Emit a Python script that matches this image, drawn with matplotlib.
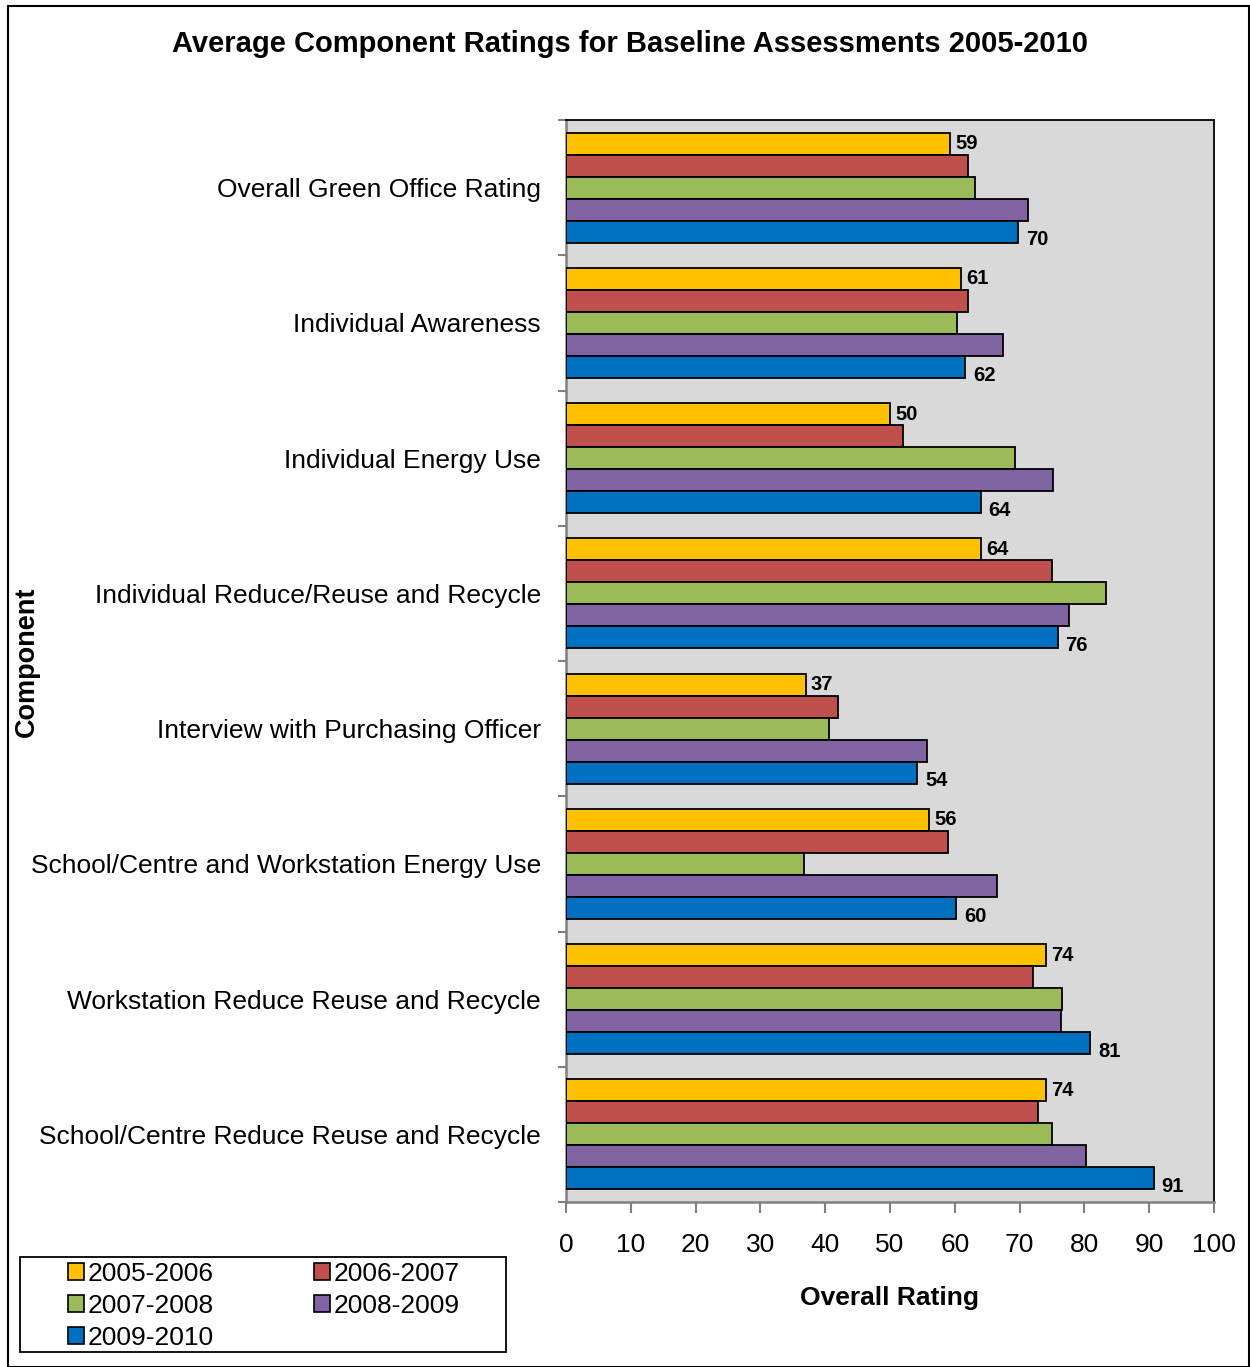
import matplotlib
matplotlib.use("Agg")
import matplotlib.pyplot as plt
import numpy as np
from matplotlib.patches import Rectangle, Patch

plt.rcParams['font.family'] = ['Liberation Sans', 'DejaVu Sans']

categories = [
    "Overall Green Office Rating",
    "Individual Awareness",
    "Individual Energy Use",
    "Individual Reduce/Reuse and Recycle",
    "Interview with Purchasing Officer",
    "School/Centre and Workstation Energy Use",
    "Workstation Reduce Reuse and Recycle",
    "School/Centre Reduce Reuse and Recycle",
]
series_names = ["2005-2006", "2006-2007", "2007-2008", "2008-2009", "2009-2010"]
v2005 = [59.3, 61.0, 50.0, 64.0, 37.0, 56.0, 74.0, 74.0]
v2006 = [62.0, 62.0, 52.0, 75.0, 42.0, 59.0, 72.0, 72.8]
v2007 = [63.1, 60.3, 69.3, 83.3, 40.6, 36.7, 76.5, 75.0]
v2008 = [71.3, 67.4, 75.2, 77.6, 55.7, 66.5, 76.4, 80.2]
v2009 = [69.8, 61.6, 64.0, 75.9, 54.2, 60.2, 80.9, 90.7]
labels_2005 = ["59", "61", "50", "64", "37", "56", "74", "74"]
labels_2009 = ["70", "62", "64", "76", "54", "60", "81", "91"]
colors = ["#FFC000", "#C0504D", "#9BBB59", "#8064A2", "#0070C0"]
xticks = [0, 10, 20, 30, 40, 50, 60, 70, 80, 90, 100]

fig = plt.figure(figsize=(12.5, 13.67), dpi=100)
ax = fig.add_axes([566/1250, 1-1202/1367, (1214-566)/1250, (1202-120)/1367])
ax.set_facecolor("#D9D9D9")

n = len(categories)
bh = 0.163
series = [v2005, v2006, v2007, v2008, v2009]
centers = np.arange(n)
for i, vals in enumerate(series):
    y = centers - 2*bh + i*bh
    ax.barh(y, vals, height=bh, color=colors[i], edgecolor="black", linewidth=1.3, zorder=3)

for j in range(n):
    ax.text(v2005[j] + 0.8, centers[j] - 2*bh, labels_2005[j], fontsize=14.5,
            fontweight="bold", va="center", ha="left", zorder=4)
    ax.text(v2009[j] + 1.2, centers[j] + 2*bh + 0.06, labels_2009[j], fontsize=14.5,
            fontweight="bold", va="center", ha="left", zorder=4)

ax.set_xlim(0, 100)
ax.set_ylim(n - 0.5, -0.5)
ax.set_xticks(xticks)
ax.set_xticklabels([str(t) for t in xticks], fontsize=19)
ax.set_yticks(centers)
ax.set_yticklabels(categories, fontsize=19)
ax.set_yticks(np.arange(-0.5, n, 1.0), minor=True)
ax.tick_params(axis="y", which="major", length=0, pad=18)
ax.tick_params(axis="y", which="minor", length=6, color="#808080", width=1.5)
ax.tick_params(axis="x", which="major", length=8, color="#808080", width=1.5, pad=14)

for s in ["left", "bottom"]:
    ax.spines[s].set_color("#808080")
    ax.spines[s].set_linewidth(1.8)
for s in ["top", "right"]:
    ax.spines[s].set_color("black")
    ax.spines[s].set_linewidth(1.3)

ax.set_xlabel("Overall Rating", fontsize=19, fontweight="bold", labelpad=21)
fig.text(27/1250, 1-662/1367, "Component", rotation=90, fontsize=19.5, fontweight="bold",
         ha="center", va="center")
fig.text(630/1250, 1-44/1367, "Average Component Ratings for Baseline Assessments 2005-2010",
         fontsize=21, fontweight="bold", ha="center", va="center")

handles = [Patch(facecolor=colors[i], edgecolor="black", linewidth=1.2) for i in range(5)]
order = [0, 2, 4, 1, 3]
leg = fig.legend([handles[i] for i in order], [series_names[i] for i in order],
                 ncol=2, loc="upper left",
                 bbox_to_anchor=(68/1250, 1-1262/1367), fontsize=19,
                 frameon=False,
                 handlelength=0.6, handleheight=0.6, handletextpad=0.15,
                 columnspacing=3.8, labelspacing=0.3, borderpad=0.0,
                 borderaxespad=0)

fig.patches.append(Rectangle((20/1250, 1-1352/1367), (506-20)/1250, (1352-1257)/1367,
                             transform=fig.transFigure, fill=False, edgecolor="black",
                             linewidth=1.3))
fig.patches.append(Rectangle((8/1250, 0), 1-8/1250 - 0.001, 1-6/1367, transform=fig.transFigure,
                             fill=False, edgecolor="black", linewidth=1.5))

fig.savefig("out.png", dpi=100)
